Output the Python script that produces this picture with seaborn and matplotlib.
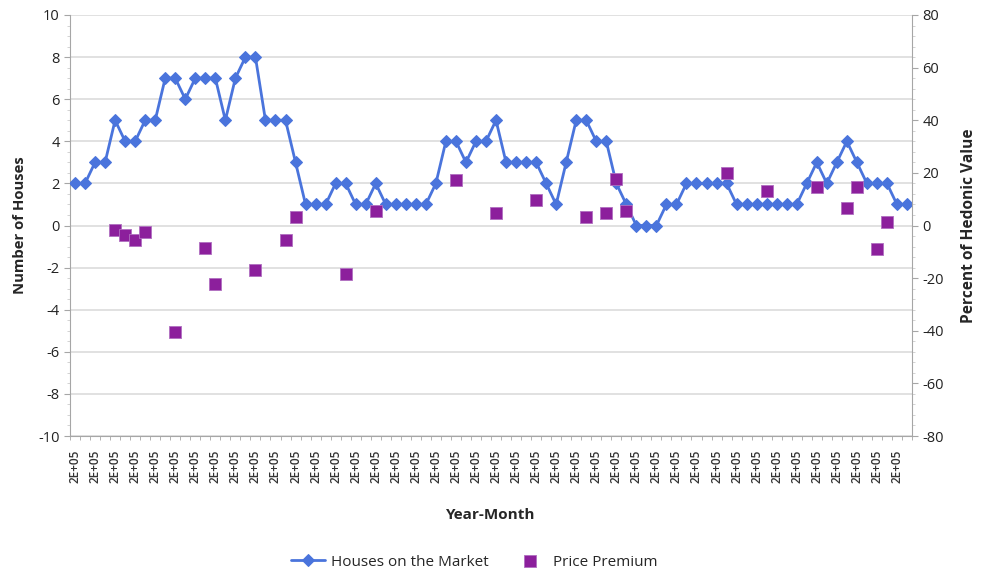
import matplotlib
matplotlib.use("Agg")
import matplotlib.pyplot as plt
import seaborn as sns
import numpy as np
import pandas as pd

# houses on the market, one value per year-month
houses = [2, 2, 3, 3, 5, 4, 4, 5, 5, 7, 7, 6, 7, 7, 7, 5, 7, 8, 8, 5, 5, 5, 3, 1, 1, 1, 2, 2, 1, 1, 2,
          1, 1, 1, 1, 1,
          2,
          4, 4, 3, 4, 4, 5, 3, 3, 3, 3, 2, 1, 3, 5, 5, 4, 4, 2, 1, 0, 0, 0,
          1, 1, 2, 2, 2, 2, 2, 1, 1, 1, 1, 1, 1, 1, 2, 3, 2, 3, 4, 3, 2, 2, 2, 1, 1]

# price premium (percent of hedonic value), only in months with a sale
premium_month = [4, 5, 6, 7, 10, 13, 14, 18, 21, 22, 27, 30, 38, 42, 46, 51, 53, 54, 55,
                 65, 69, 74, 77, 78, 80, 81]
premium_value = [-1.9, -3.8, -5.5, -2.3, -40.5, -8.5, -22.2, -16.9, -5.5, 3.2, -18.5, 5.5,
                 17.3, 4.7, 9.8, 3.4, 4.7, 17.8, 5.5, 19.9, 13.0, 14.6, 6.6, 14.6, -8.8, 1.3]

tick_label = "2E+05"

sns.set_style("white")
plt.rcParams['font.family'] = ['Open Sans', 'DejaVu Sans']
plt.rcParams['axes.unicode_minus'] = False

blue = '#4a74dc'
purple = '#8c1f9c'
grey = '#a6a6a6'

df_h = pd.DataFrame({'month': np.arange(len(houses)), 'houses': houses})
df_p = pd.DataFrame({'month': premium_month, 'premium': premium_value})

fig = plt.figure(figsize=(9.82, 5.72), dpi=100)
ax = fig.add_axes([70 / 982, 1 - 436 / 572, 842 / 982, 421 / 572])
ax2 = ax.twinx()

sns.lineplot(data=df_h, x='month', y='houses', ax=ax, color=blue, marker='D',
             markersize=6, markeredgecolor=blue, linewidth=2, label='Houses on the Market',
             legend=False, zorder=3)
sns.scatterplot(data=df_p, x='month', y='premium', ax=ax2, color=purple, marker='s',
                s=70, edgecolor='#b070c0', linewidth=0.6, label='Price Premium',
                legend=False, zorder=4)

ax.set_xlim(-0.5, len(houses) - 0.5)
ax.set_ylim(-10, 10)
ax2.set_ylim(-80, 80)
ax.set_yticks(np.arange(-10, 11, 2))
ax2.set_yticks(np.arange(-80, 81, 20))
ax.set_yticks(np.arange(-10, 10.1, 0.5), minor=True)
ax2.set_yticks(np.arange(-80, 80.1, 4), minor=True)

major_x = np.arange(0, len(houses), 2)
ax.set_xticks(major_x)
ax.set_xticklabels([tick_label] * len(major_x), rotation=90, fontsize=8.5,
                   color='#333333', fontweight='semibold')
ax.set_xticks(np.arange(-0.5, len(houses), 1), minor=True)

ax.grid(axis='y', color='#dcdcdc', linewidth=1.2)
ax.set_axisbelow(True)
ax2.grid(False)

for a in (ax, ax2):
    for s in a.spines.values():
        s.set_color(grey)
    a.spines['top'].set_visible(False)
ax.spines['right'].set_visible(False)
ax2.spines['left'].set_visible(False)
ax2.spines['bottom'].set_visible(False)

ax.tick_params(axis='y', which='major', labelsize=10.5, length=4, color=grey, labelcolor='#222222', direction='out', left=True)
ax.tick_params(axis='y', which='minor', length=2, color='#cccccc', left=True)
ax.tick_params(axis='x', which='major', length=0, pad=10)
ax.tick_params(axis='x', which='minor', length=3, color=grey, bottom=True)
ax2.tick_params(axis='y', which='major', labelsize=10.5, length=4, color=grey, labelcolor='#222222', right=True)
ax2.tick_params(axis='y', which='minor', length=2, color='#cccccc', right=True)

ax.set_xlabel('Year-Month', fontsize=11, fontweight='bold', labelpad=18)
ax.set_ylabel('Number of Houses', fontsize=10.7, fontweight='bold', labelpad=8)
ax2.set_ylabel('Percent of Hedonic Value', fontsize=11.2, fontweight='bold', labelpad=12)

h1, l1 = ax.get_legend_handles_labels()
h2, l2 = ax2.get_legend_handles_labels()
fig.legend(h1 + h2, l1 + l2, loc='center', bbox_to_anchor=(474 / 982, 1 - 562 / 572),
           ncol=2, frameon=False, fontsize=11, columnspacing=1.6, handlelength=2.2,
           handletextpad=0.4)

fig.savefig('out.png', dpi=100)
